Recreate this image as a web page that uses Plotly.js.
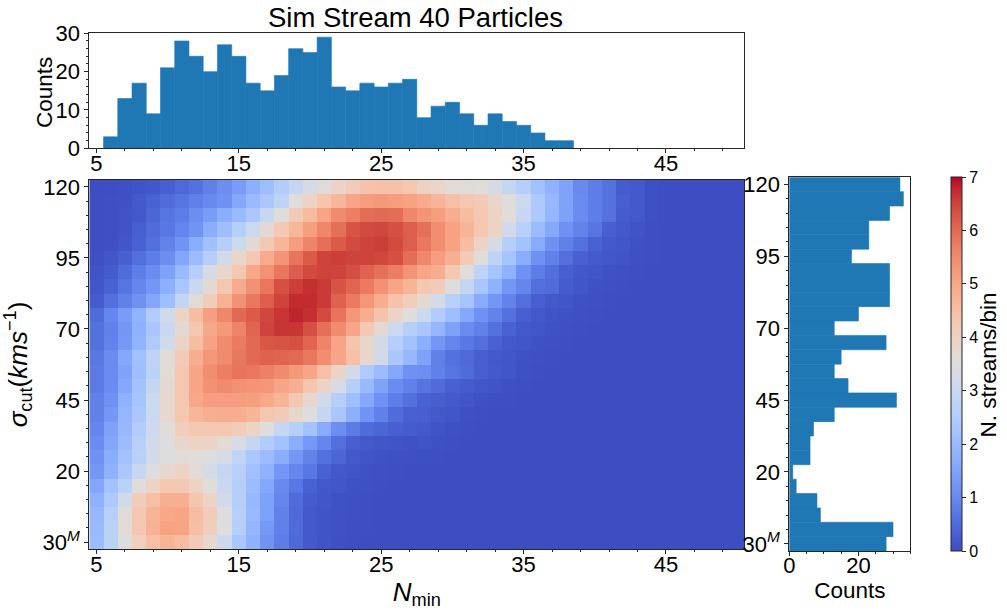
<!DOCTYPE html>
<html>
<head>
<meta charset="utf-8">
<script src="https://cdn.plot.ly/plotly-3.0.1.min.js"></script>
<style>
  html, body { margin: 0; padding: 0; background: #fff; }
  #chart { width: 1007px; height: 612px; }
</style>
</head>
<body>
<div id="chart"></div>
<script>
// ── Data ─────────────────────────────────────────────────────────────────────
const nMin = [5,6,7,8,9,10,11,12,13,14,15,16,17,18,19,20,21,22,23,24,25,26,27,28,29,30,31,32,33,34,35,36,37,38,39,40,41,42,43,44,45,46,47,48,49,50];
const sigmaCut = [120,115,110,105,100,95,90,85,80,75,70,65,60,55,50,45,40,35,30,25,20,15,10,5,0,-5];

// streams per bin, one row per sigmaCut value (top to bottom), x = 5..50
const streams = [
  [.03,.05,.08,.12,.18,.3,.45,.6,.85,1.1,1.35,1.75,2.1,2.5,2.9,3.25,3.6,3.9,4.15,4.4,4.45,4.45,4.3,4.0, 3.85,3.65,3.6,3.55,3.25,2.9,2.55,2.15,1.8,1.5,1.0,.8,.6,.25,.2,.08,.03,.03,.03,.03,.03,.03],
  [.05,.07,.1,.2,.35,.5,.65,.85,1.0,1.15,1.6,2.0,2.35,2.75,3.55,3.95,4.35,4.7,5.05,5.2,5.25,5.2,5.1,4.95, 4.75,4.5,4.3,4.2,3.85,3.55,3.05,2.4,1.95,1.5,1.05,.8,.6,.3,.2,.08,.03,.03,.03,.03,.03,.03],
  [.05,.07,.12,.2,.4,.65,.8,1.1,1.35,1.7,2.0,2.35,2.95,3.55,4.2,4.6,5.05,5.5,5.7,5.95,6.0,5.95,5.55,5.35, 5.2,4.9,4.55,4.3,3.95,3.55,2.95,2.4,1.9,1.45,1.05,.8,.6,.25,.2,.07,.03,.03,.03,.03,.03,.03],
  [.05,.07,.12,.3,.5,.7,.95,1.2,1.7,2.1,2.55,3.05,3.7,4.25,4.7,5.15,5.55,5.9,6.3,6.4,6.45,6.35,6.15,5.9, 5.45,5.1,4.75,4.3,3.95,3.2,2.6,2.05,1.6,1.15,.9,.65,.3,.22,.12,.05,.03,.03,.03,.03,.03,.03],
  [.05,.07,.15,.35,.55,.9,1.2,1.7,2.15,2.55,3.05,3.7,4.25,4.7,5.2,5.6,5.9,6.2,6.4,6.5,6.55,6.4,6.15,5.8, 5.45,5.1,4.55,3.9,3.25,2.55,2.2,1.65,1.15,.85,.6,.35,.22,.15,.1,.05,.03,.03,.03,.03,.03,.03],
  [.07,.15,.3,.55,.8,1.1,1.55,2.05,2.55,3.2,3.85,4.3,4.95,5.35,5.85,6.2,6.5,6.55,6.5,6.5,6.45,6.35,5.95,5.55, 5.2,4.85,4.2,3.55,2.75,2.25,1.7,1.15,.85,.55,.32,.24,.18,.12,.08,.05,.03,.03,.03,.03,.03,.03],
  [.12,.25,.5,.8,1.05,1.45,2.0,2.55,3.25,3.8,4.3,5.0,5.4,5.8,6.15,6.4,6.5,6.5,6.35,6.1,5.9,5.7,5.35,5.05, 4.9,4.3,3.55,2.75,2.25,1.8,1.15,.8,.55,.3,.2,.15,.1,.07,.05,.03,.03,.03,.03,.03,.03,.03],
  [.15,.35,.65,.95,1.25,1.75,2.3,3.0,3.7,4.3,4.95,5.4,5.8,6.35,6.55,6.7,6.6,6.3,6.05,5.75,5.4,5.05,4.75,4.3, 4.2,3.55,2.9,2.3,1.8,1.25,.95,.55,.5,.25,.15,.1,.08,.05,.03,.03,.03,.03,.03,.03,.03,.03],
  [.25,.55,.85,1.15,1.55,2.1,2.85,3.6,4.15,4.8,5.4,5.8,6.15,6.5,6.75,6.75,6.6,6.1,5.75,5.3,4.9,4.4,4.1,3.7, 3.25,2.6,2.25,1.65,1.25,.9,.55,.3,.2,.15,.1,.07,.05,.03,.03,.03,.03,.03,.03,.03,.03,.03],
  [.5,.95,1.35,1.85,2.5,3.15,3.95,4.55,5.15,5.55,6.0,6.2,6.45,6.65,6.8,6.7,6.4,5.85,5.3,4.9,4.4,3.9,3.5,3.05, 2.5,2.1,1.6,1.15,.9,.6,.3,.2,.13,.09,.07,.05,.03,.03,.03,.03,.03,.03,.03,.03,.03,.03],
  [.6,.85,1.25,1.8,2.3,3.0,3.7,4.3,5.0,5.25,5.6,6.05,6.5,6.65,6.65,6.35,5.9,5.5,5.05,4.3,3.7,3.05,2.55,2.3, 1.9,1.45,1.05,.85,.6,.35,.2,.15,.1,.07,.05,.03,.03,.03,.03,.03,.03,.03,.03,.03,.03,.03],
  [.6,.9,1.3,1.85,2.45,3.15,3.9,4.55,5.1,5.5,5.75,6.0,6.25,6.3,6.35,6.05,5.6,5.05,4.35,3.8,3.2,2.55,2.2,1.75, 1.25,.95,.7,.55,.33,.22,.15,.1,.07,.05,.03,.03,.03,.03,.03,.03,.03,.03,.03,.03,.03,.03],
  [.7,1.05,1.6,2.15,2.75,3.6,4.2,4.9,5.3,5.5,5.8,6.0,6.1,6.05,6.0,5.8,5.45,5.05,4.5,3.8,3.2,2.35,1.95,1.45, .85,.6,.45,.3,.2,.15,.1,.07,.05,.03,.03,.03,.03,.03,.03,.03,.03,.03,.03,.03,.03,.03],
  [.75,1.05,1.5,2.1,2.7,3.65,4.3,5.05,5.45,5.7,5.85,5.8,5.65,5.5,5.25,5.05,4.5,3.9,3.2,2.45,2.05,1.6,1.15,1.1, .85,.65,.5,.3,.22,.15,.08,.05,.03,.03,.03,.03,.03,.03,.03,.03,.03,.03,.03,.03,.03,.03],
  [.75,1.05,1.6,2.2,2.9,3.7,4.3,5.05,5.4,5.5,5.4,5.35,5.3,5.05,4.85,4.35,3.95,3.3,2.55,2.0,1.5,1.05,.85,.65, .5,.32,.25,.18,.12,.08,.05,.03,.03,.03,.03,.03,.03,.03,.03,.03,.03,.03,.03,.03,.03,.03],
  [.85,1.15,1.8,2.25,3.05,3.75,4.3,5.0,5.2,5.2,5.2,5.15,5.0,4.75,4.3,3.8,3.2,2.55,2.1,1.6,1.15,.8,.6,.35, .28,.22,.16,.1,.06,.04,.03,.03,.03,.03,.03,.03,.03,.03,.03,.03,.03,.03,.03,.03,.03,.03],
  [.85,1.25,1.9,2.35,3.05,3.75,4.3,4.7,4.85,4.9,4.9,4.75,4.3,4.2,3.8,3.5,2.9,2.3,1.75,1.2,.85,.5,.32,.3, .2,.15,.08,.05,.03,.03,.03,.03,.03,.03,.03,.03,.03,.03,.03,.03,.03,.03,.03,.03,.03,.03],
  [.95,1.45,1.95,2.5,3.1,3.55,4.1,4.25,4.25,4.3,4.15,3.95,3.5,2.9,2.55,2.2,1.65,1.1,.75,.5,.4,.3,.25,.2, .12,.08,.05,.03,.03,.03,.03,.03,.03,.03,.03,.03,.03,.03,.03,.03,.03,.03,.03,.03,.03,.03],
  [1.05,1.55,2.05,2.6,3.2,3.5,3.8,3.95,3.9,3.65,3.3,2.9,2.5,2.2,1.7,1.3,.95,.55,.3,.2,.15,.12,.1,.12, .08,.04,.03,.03,.03,.03,.03,.03,.03,.03,.03,.03,.03,.03,.03,.03,.03,.03,.03,.03,.03,.03],
  [1.15,1.7,2.2,2.65,3.2,3.5,3.65,3.55,3.45,3.3,2.8,2.35,2.05,1.7,1.25,.9,.6,.4,.2,.14,.1,.08,.07,.06, .04,.03,.03,.03,.03,.03,.03,.03,.03,.03,.03,.03,.03,.03,.03,.03,.03,.03,.03,.03,.03,.03],
  [1.25,1.8,2.35,2.95,3.5,3.75,3.95,3.65,3.25,2.9,2.6,2.15,1.8,1.25,.95,.7,.35,.2,.14,.1,.07,.05,.03,.03, .03,.03,.03,.03,.03,.03,.03,.03,.03,.03,.03,.03,.03,.03,.03,.03,.03,.03,.03,.03,.03,.03],
  [1.55,2.2,2.7,3.55,3.95,4.25,4.25,3.95,3.55,3.0,2.55,2.05,1.6,1.0,.7,.35,.2,.15,.1,.08,.05,.03,.03,.03, .03,.03,.03,.03,.03,.03,.03,.03,.03,.03,.03,.03,.03,.03,.03,.03,.03,.03,.03,.03,.03,.03],
  [1.8,2.4,3.2,4.15,4.5,4.85,4.85,4.35,3.95,3.2,2.55,1.95,1.45,.95,.5,.25,.15,.1,.08,.05,.03,.03,.03,.03, .03,.03,.03,.03,.03,.03,.03,.03,.03,.03,.03,.03,.03,.03,.03,.03,.03,.03,.03,.03,.03,.03],
  [1.95,2.6,3.6,4.3,4.75,5.0,5.05,4.55,4.15,3.5,2.6,2.0,1.45,.85,.45,.2,.13,.1,.07,.05,.03,.03,.03,.03, .03,.03,.03,.03,.03,.03,.03,.03,.03,.03,.03,.03,.03,.03,.03,.03,.03,.03,.03,.03,.03,.03],
  [2.0,2.7,3.65,4.3,4.8,5.1,5.05,4.5,4.1,3.45,2.55,1.9,1.3,.85,.5,.2,.13,.09,.06,.04,.03,.03,.03,.03, .03,.03,.03,.03,.03,.03,.03,.03,.03,.03,.03,.03,.03,.03,.03,.03,.03,.03,.03,.03,.03,.03],
  [2.05,2.7,3.5,4.05,4.5,4.75,4.55,4.2,3.75,3.1,2.3,1.8,1.2,.8,.45,.22,.12,.08,.05,.03,.03,.03,.03,.03, .03,.03,.03,.03,.03,.03,.03,.03,.03,.03,.03,.03,.03,.03,.03,.03,.03,.03,.03,.03,.03,.03]
];

// top histogram (N_min), bins 5.5..38.5
const histXBins = [6,7,8,9,10,11,12,13,14,15,16,17,18,19,20,21,22,23,24,25,26,27,28,29,30,31,32,33,34,35,36,37,38];
const histXCounts = [3,13,17,9,21,28,24,20,27,24,17,15,19,26,25,29,16,15,17,16,17,18,8,11,12,9,6,9,7,6,4,2,2];
// side histogram (sigma_cut), same rows as the heatmap
const histYCounts = [32,33,29,23,23,18,29,29,29,20,13,28,15,13,17,31,13,7,6,6,1,2,8,9,30,28];

const xTickVals = [5,15,25,35,45];
const yTickVals = [-5,20,45,70,95,120];
const yTickText = ['30<sup><i>M</i></sup>','20','45','70','95','120'];

// matplotlib "coolwarm"
const coolwarm = [
  [59,76,192],[68,90,204],[77,104,215],[87,117,225],[98,130,234],[108,142,241],[119,154,247],[130,165,251],
  [141,176,254],[152,185,255],[163,194,255],[174,201,253],[184,208,249],[194,213,244],[204,217,238],[213,219,230],
  [221,221,221],[229,216,209],[236,211,197],[241,204,185],[245,196,173],[247,187,160],[247,177,148],[247,166,135],
  [244,154,123],[241,141,111],[236,127,99],[229,112,88],[222,96,77],[213,80,66],[203,62,56],[192,40,47],[180,4,38]
];

// ── Layout helpers ───────────────────────────────────────────────────────────
const W = 1007, H = 612;
const BLUE = '#1f77b4';
const INK = '#262626';
const FONT = 'Liberation Sans, Arial, sans-serif';
const X_LABEL_SHIFT = -9;   // plotly sets x tick labels lower than matplotlib does

const domX = (a, b) => [a / W, b / W];
const domY = (top, bottom) => [1 - bottom / H, 1 - top / H];
const barMarker = { color: BLUE, line: { width: 0.6, color: BLUE } };  // line hides seams between bars

function axis(extra) {
  return Object.assign({
    showgrid: false,
    zeroline: false,
    showline: true,
    mirror: true,
    linecolor: INK,
    linewidth: 1,
    ticks: 'outside',
    ticklen: 4,
    tickwidth: 1,
    tickcolor: INK,
    tickfont: { family: FONT, size: 22, color: '#000' },
  }, extra);
}

// side titles that plotly cannot put close enough to their axis
function sideTitle(text, px, py) {
  return {
    text, xref: 'paper', yref: 'paper', x: px / W, y: 1 - py / H,
    xanchor: 'center', yanchor: 'middle', textangle: -90, showarrow: false,
    font: { family: FONT, size: 22.5, color: '#000' },
  };
}

const xAxisBase = {
  range: [4.5, 50.5],
  tickmode: 'array',
  tickvals: xTickVals,
  ticktext: xTickVals.map(String),
  ticklabelstandoff: X_LABEL_SHIFT,
  minor: { tick0: 5, dtick: 2, ticks: 'outside', ticklen: 2, tickcolor: INK, showgrid: false },
};
const sigmaAxisBase = {
  range: [-7.5, 122.5],
  tickmode: 'array',
  tickvals: yTickVals,
  ticktext: yTickText,
  minor: { tick0: -5, dtick: 5, ticks: 'outside', ticklen: 2, tickcolor: INK, showgrid: false },
};

const traces = [
  {
    type: 'heatmap',
    x: nMin,
    y: sigmaCut,
    z: streams,
    zmin: 0,
    zmax: 7,
    colorscale: coolwarm.map((c, i) => [i / (coolwarm.length - 1), `rgb(${c.join(',')})`]),
    colorbar: {
      thickness: 10.5,
      thicknessmode: 'pixels',
      len: 373.7,
      lenmode: 'pixels',
      x: 950.6 / W,
      xanchor: 'left',
      xpad: 0,
      y: 1 - 551 / H,
      yanchor: 'bottom',
      ypad: 0,
      outlinecolor: INK,
      outlinewidth: 1,
      tickmode: 'array',
      tickvals: [0,1,2,3,4,5,6,7],
      ticks: 'outside',
      ticklen: 4,
      tickcolor: INK,
      tickfont: { family: FONT, size: 16, color: '#000' },
    },
  },
  { type: 'bar', x: histXBins, y: histXCounts, width: 1, marker: barMarker, xaxis: 'x2', yaxis: 'y2' },
  { type: 'bar', orientation: 'h', x: histYCounts, y: sigmaCut, width: 5, marker: barMarker, xaxis: 'x3', yaxis: 'y3' },
];

const layout = {
  width: W,
  height: H,
  autosize: false,
  margin: { l: 0, r: 0, t: 0, b: 0, pad: 0 },
  paper_bgcolor: '#fff',
  plot_bgcolor: '#fff',
  showlegend: false,
  font: { family: FONT, color: '#000' },
  title: {
    text: 'Sim Stream 40 Particles',
    font: { family: FONT, size: 27.5, color: '#000' },
    x: 415.5 / W,
    xanchor: 'center',
    y: 1 - 17 / H,
    yanchor: 'middle',
  },
  annotations: [
    sideTitle('Counts', 44, 93),
    sideTitle('N. streams/bin', 987.5, 365),
  ],
  // main heatmap
  xaxis: axis(Object.assign({}, xAxisBase, {
    domain: domX(89.3, 744.3),
    anchor: 'y',
    title: { text: '<i>N</i><sub>min</sub>', standoff: 4, font: { family: FONT, size: 26, color: '#000' } },
  })),
  yaxis: axis(Object.assign({}, sigmaAxisBase, {
    domain: domY(179.7, 549.3),
    anchor: 'x',
    title: { text: '<i>σ</i><sub>cut</sub>(<i>kms</i><sup>−1</sup>)', standoff: 7, font: { family: FONT, size: 26, color: '#000' } },
  })),
  // top histogram
  xaxis2: axis(Object.assign({}, xAxisBase, { domain: domX(89.3, 744.3), anchor: 'y2' })),
  yaxis2: axis({
    domain: domY(33.3, 148.3),
    anchor: 'x2',
    range: [0, 30],
    tickmode: 'array',
    tickvals: [0,10,20,30],
    minor: { tick0: 0, dtick: 2, ticks: 'outside', ticklen: 2, tickcolor: INK, showgrid: false },
  }),
  // side histogram
  xaxis3: axis({
    domain: domX(789.3, 910.3),
    anchor: 'y3',
    range: [0, 35],
    tickmode: 'array',
    tickvals: [0,20],
    ticklabelstandoff: X_LABEL_SHIFT,
    minor: { tick0: 0, dtick: 5, ticks: 'outside', ticklen: 2, tickcolor: INK, showgrid: false },
    title: { text: 'Counts', standoff: 2, font: { family: FONT, size: 22.5, color: '#000' } },
  }),
  yaxis3: axis(Object.assign({}, sigmaAxisBase, { domain: domY(177.3, 551), anchor: 'x3' })),
};

Plotly.newPlot('chart', traces, layout, { displayModeBar: false, responsive: false, staticPlot: true });
</script>
</body>
</html>
